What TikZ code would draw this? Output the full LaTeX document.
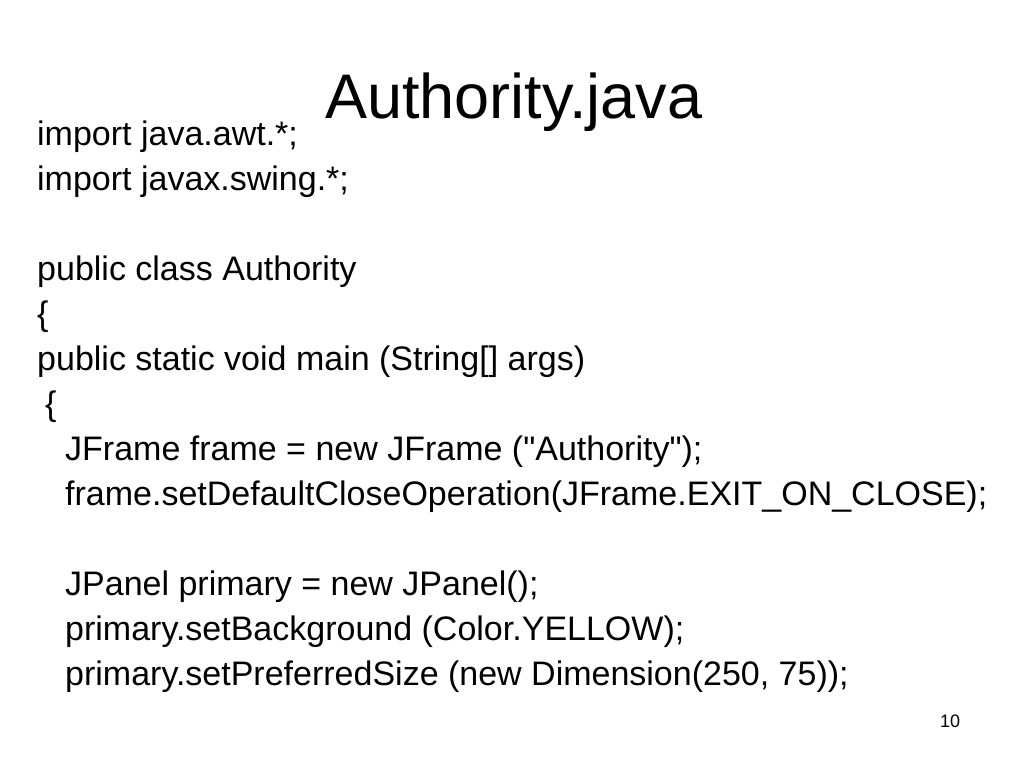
\documentclass[tikz,border=0pt]{standalone}
\usepackage{fontspec}
\setmainfont{Liberation Sans}
\usepackage{tikz}
\tikzset{
    codeline/.style={anchor=base west, inner sep=0pt, font=\fontsize{34}{34}\selectfont},
}

\begin{document}
\begin{tikzpicture}[x=1pt, y=-1pt]
        %fix page size
        \useasboundingbox (0, 0) rectangle (1024, 768);
        %draw title
        \node[anchor=base west, inner sep=0pt, font=\fontsize{63}{63}\selectfont] (title) at (325, 118) {Authority.java};
        %draw code lines
        \node[codeline] (imp1) at (37, 145) {import java.awt.*;};
        \node[codeline] (imp2) at (37, 190) {import javax.swing.*;};
        \node[codeline] (cls) at (37, 280) {public class Authority};
        \node[codeline] (open1) at (37, 325) {\{};
        \node[codeline] (main) at (37, 370) {public static void main (String[] args)};
        \node[codeline] (open2) at (45, 415) {\{};
        \node[codeline] (frame) at (65, 460) {JFrame frame = new JFrame (\textquotedbl Authority\textquotedbl);};
        \node[codeline] (close) at (65, 505) {frame.setDefaultCloseOperation(JFrame.EXIT\_ON\_CLOSE);};
        \node[codeline] (panel) at (65, 595) {JPanel primary = new JPanel();};
        \node[codeline] (back) at (65, 640) {primary.setBackground (Color.YELLOW);};
        \node[codeline] (size) at (65, 685) {primary.setPreferredSize (new Dimension(250, 75));};
        %label page number
        \node[anchor=base west, inner sep=0pt, font=\fontsize{18}{18}\selectfont] (page) at (940, 727) {10};
    \end{tikzpicture}
\end{document}
